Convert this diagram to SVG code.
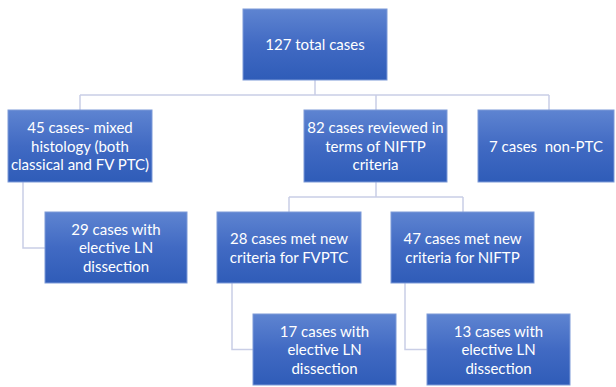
<svg xmlns="http://www.w3.org/2000/svg" width="616" height="387" viewBox="0 0 616 387">
<defs>
<linearGradient id="g" x1="0" y1="0" x2="0" y2="1">
<stop offset="0" stop-color="#5e84d1"/>
<stop offset="0.5" stop-color="#416ac3"/>
<stop offset="1" stop-color="#2f5cb8"/>
</linearGradient>
<style>
.box{fill:url(#g);stroke:#7d9ad8;stroke-width:1}
.t{font-family:Lato,"Liberation Sans",sans-serif;font-size:15px;fill:#ffffff;text-anchor:middle}
.c{fill:none;stroke:#c9cee6;stroke-width:1.5}
</style>
</defs>
<rect width="616" height="387" fill="#ffffff"/>
<g id="connectors">
<path class="c" d="M315 80 V95 M80 95 H549 M80 95 V110 M376 95 V110 M549 95 V110"/>
<path class="c" d="M23 182 V248 H45"/>
<path class="c" d="M376 182 V197 M289 197 H463 M289 197 V212 M463 197 V212"/>
<path class="c" d="M232 283 V349.5 H253"/>
<path class="c" d="M405 283 V349.5 H427"/>
</g>
<g id="n0"><rect class="box" x="243" y="9" width="144" height="71"/><text class="t" x="315" y="50">127 total cases</text></g>
<g id="n1"><rect class="box" x="8" y="110" width="144" height="72"/><text class="t" x="80" y="133">45 cases- mixed</text><text class="t" x="80" y="151.5">histology (both</text><text class="t" x="80" y="170">classical and FV PTC)</text></g>
<g id="n2"><rect class="box" x="304" y="110" width="143" height="72"/><text class="t" x="375.5" y="133">82 cases reviewed in</text><text class="t" x="375.5" y="151.5">terms of NIFTP</text><text class="t" x="375.5" y="170">criteria</text></g>
<g id="n3"><rect class="box" x="478" y="110" width="136" height="72"/><text class="t" x="546" y="151.5" xml:space="preserve">7 cases  non-PTC</text></g>
<g id="n4"><rect class="box" x="45" y="212" width="142" height="71"/><text class="t" x="116" y="234.5">29 cases with</text><text class="t" x="116" y="253">elective LN</text><text class="t" x="116" y="271.5">dissection</text></g>
<g id="n5"><rect class="box" x="217" y="212" width="144" height="71"/><text class="t" x="289" y="244">28 cases met new</text><text class="t" x="289" y="262.5">criteria for FVPTC</text></g>
<g id="n6"><rect class="box" x="391" y="212" width="143" height="71"/><text class="t" x="462.5" y="244">47 cases met new</text><text class="t" x="462.5" y="262.5">criteria for NIFTP</text></g>
<g id="n7"><rect class="box" x="253" y="314" width="143" height="71"/><text class="t" x="324.5" y="336.5">17 cases with</text><text class="t" x="324.5" y="355">elective LN</text><text class="t" x="324.5" y="373.5">dissection</text></g>
<g id="n8"><rect class="box" x="427" y="314" width="143" height="71"/><text class="t" x="498.5" y="336.5">13 cases with</text><text class="t" x="498.5" y="355">elective LN</text><text class="t" x="498.5" y="373.5">dissection</text></g>
</svg>
